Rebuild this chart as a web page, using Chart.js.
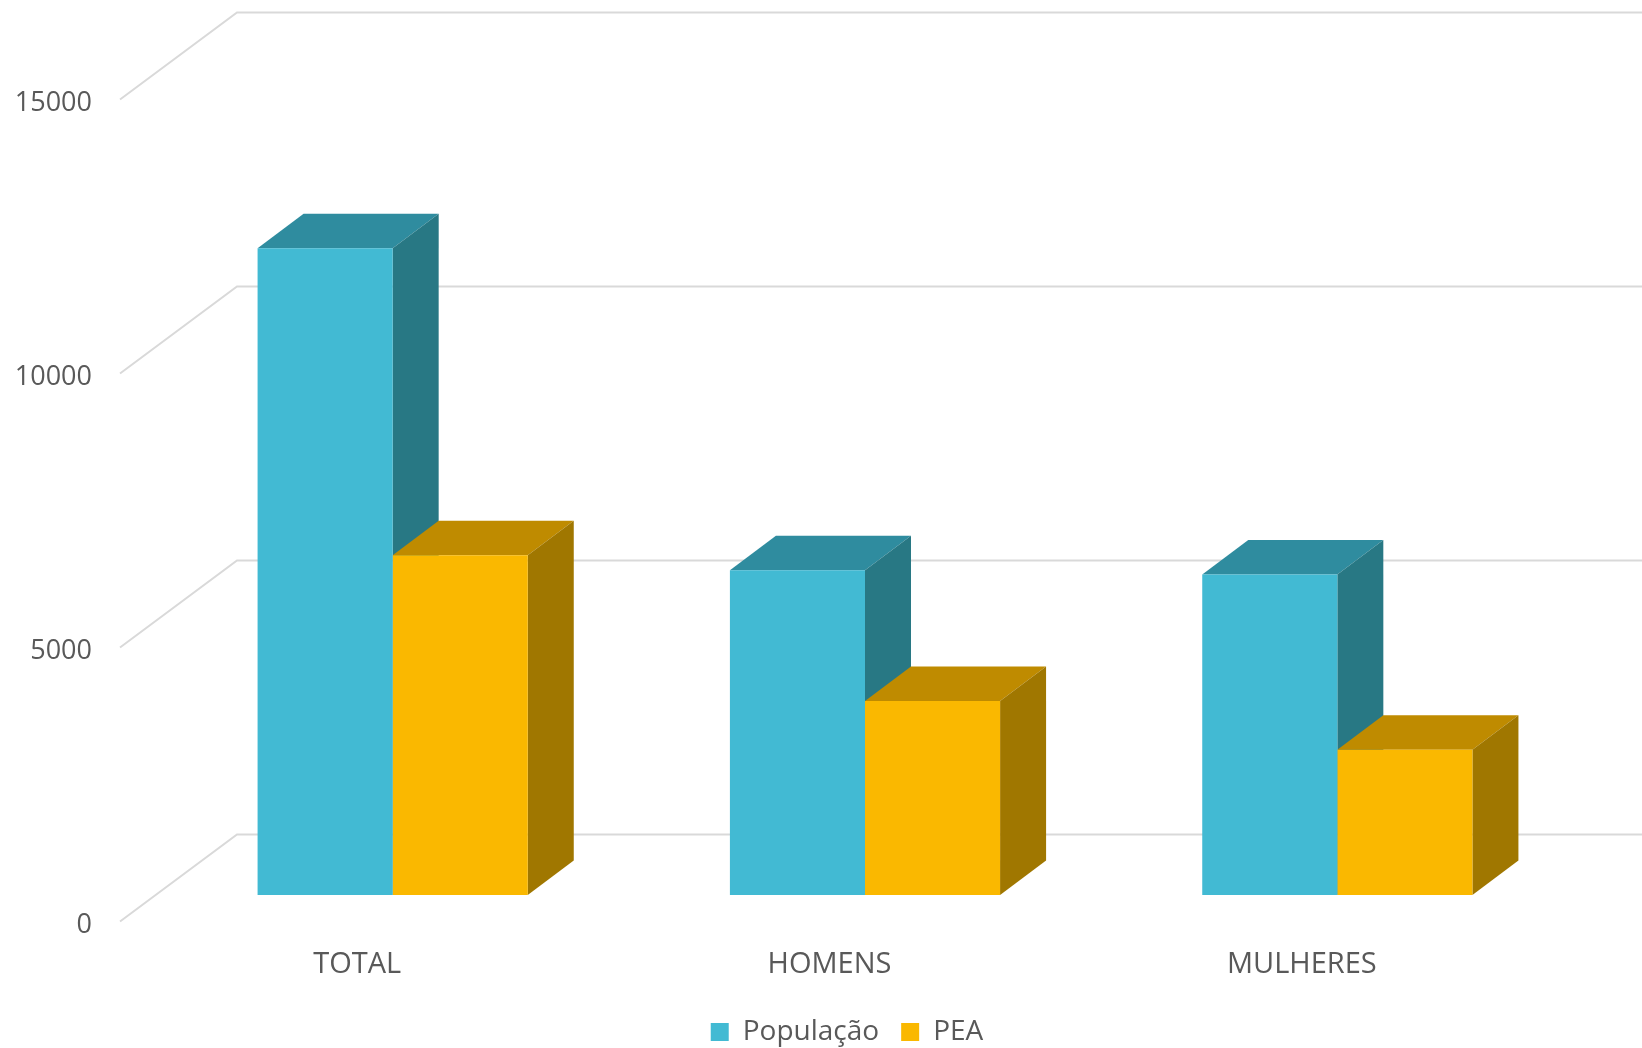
<!DOCTYPE html>
<html>
<head>
<meta charset="utf-8">
<script src="https://cdn.jsdelivr.net/npm/chart.js@4"></script>
<style>
  body { margin: 0; background: #fff; }
  #wrap { width: 1642px; height: 1048px; }
</style>
</head>
<body>
<div id="wrap"><canvas id="chart1"></canvas></div>
<script>
// dados
const categories = ['TOTAL', 'HOMENS', 'MULHERES'];
const populacao = [11800, 5925, 5850];
const pea = [6200, 3540, 2650];
const yTicks = [0, 5000, 10000, 15000];

// cores (frente, topo, lado)
const popColors = ['#42bad3', '#2f8c9f', '#287884'];
const peaColors = ['#fab800', '#bf8b00', '#a07700'];

// "3D" falso: profundidade do chao e das barras
const FLOOR_DX = 116, FLOOR_DY = -87;
const SHIFT_X = 35.5, SHIFT_Y = -26.5;
const BAR_DX = 46, BAR_DY = -34.5;

function poly(ctx, pts, color) {
    ctx.beginPath();
    ctx.moveTo(pts[0][0], pts[0][1]);
    for (let i = 1; i < pts.length; i++) ctx.lineTo(pts[i][0], pts[i][1]);
    ctx.closePath();
    ctx.fillStyle = color;
    ctx.fill();
}

const fake3d = {
    id: 'fake3d',
    afterLayout(chart) {
        // legenda deslocada como no Excel (centrada na area do grafico)
        chart.legend.left += 78;
        chart.legend.right += 78;
        chart.legend.top += 8;
        chart.legend.bottom += 8;
    },
    beforeDatasetsDraw(chart) {
        const { ctx, chartArea: a } = chart;
        const y = chart.scales.y;
        ctx.save();
        ctx.strokeStyle = '#d9d9d9';
        ctx.lineWidth = 2;
        yTicks.forEach(v => {
            const py = y.getPixelForValue(v);
            ctx.beginPath();
            ctx.moveTo(a.left - 1, py);
            ctx.lineTo(a.left + FLOOR_DX, py + FLOOR_DY);
            ctx.lineTo(chart.width + 10, py + FLOOR_DY);
            ctx.stroke();
        });

        // topo e lateral de cada barra, desenhados antes das faces frontais
        const sides = [popColors, peaColors];
        for (let i = 0; i < categories.length; i++) {
            chart.data.datasets.forEach((ds, d) => {
                const bar = chart.getDatasetMeta(d).data[i];
                const l = bar.x - bar.width / 2 + SHIFT_X;
                const r = bar.x + bar.width / 2 + SHIFT_X;
                const t = bar.y + SHIFT_Y;
                const b = bar.base + SHIFT_Y;
                poly(ctx, [[l, t], [l + BAR_DX, t + BAR_DY], [r + BAR_DX, t + BAR_DY], [r, t]], sides[d][1]);
                poly(ctx, [[r, t], [r + BAR_DX, t + BAR_DY], [r + BAR_DX, b + BAR_DY], [r, b]], sides[d][2]);
            });
        }
        ctx.restore();

        // faces frontais: desenhadas pelo Chart.js, deslocadas para o plano das barras
        ctx.save();
        ctx.translate(SHIFT_X, SHIFT_Y);
    },
    afterDatasetsDraw(chart) {
        chart.ctx.restore();
    }
};

const family = '"Open Sans", Lato, sans-serif';

const ctx = document.getElementById('chart1').getContext('2d');
const chart1 = new Chart(ctx, {
    type: 'bar',
    data: {
        labels: categories,
        datasets: [
            {
                label: 'População',
                data: populacao,
                backgroundColor: popColors[0],
                borderWidth: 0,
                barPercentage: 1,
                categoryPercentage: 0.572,
                clip: false
            },
            {
                label: 'PEA',
                data: pea,
                backgroundColor: peaColors[0],
                borderWidth: 0,
                barPercentage: 1,
                categoryPercentage: 0.572,
                clip: false
            }
        ]
    },
    options: {
        responsive: true,
        maintainAspectRatio: false,
        animation: false,
        layout: {
            padding: { top: 99.5, right: 104, left: 0, bottom: 0 }
        },
        plugins: {
            legend: {
                position: 'bottom',
                labels: {
                    color: '#595959',
                    font: { family: family, size: 28 },
                    boxWidth: 18,
                    boxHeight: 18,
                    padding: 22
                }
            },
            tooltip: { enabled: false }
        },
        scales: {
            x: {
                grid: { display: false, drawTicks: false },
                border: { display: false },
                ticks: { color: '#595959', font: { family: family, size: 29 }, padding: 26 },
                afterFit: function (scale) {
                    scale.height = 1048 - 921.5 - scale.chart.legend.height;
                }
            },
            y: {
                min: 0,
                max: 15000,
                grid: { display: false, drawTicks: false },
                border: { display: false },
                ticks: {
                    stepSize: 5000,
                    color: '#595959',
                    font: { family: family, size: 27 },
                    padding: 29,
                    labelOffset: 4,
                    callback: function (value) {
                        return String(value);
                    }
                },
                afterFit: function (scale) {
                    scale.width = 121;
                }
            }
        }
    },
    plugins: [fake3d]
});
</script>
</body>
</html>
